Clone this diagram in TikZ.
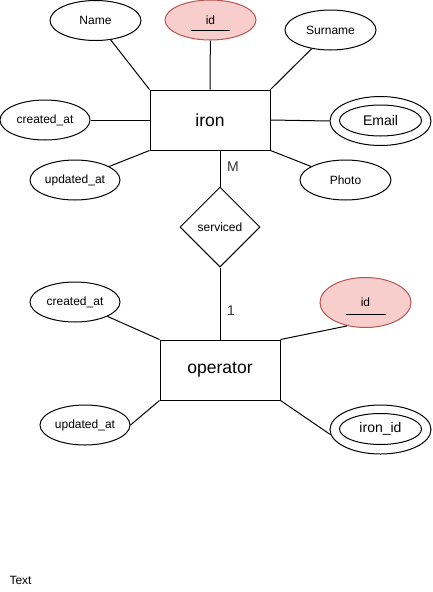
\documentclass[tikz,border=0pt]{standalone}
\usepackage{fontspec}
\setmainfont{Liberation Sans}
\usetikzlibrary{shapes.geometric}
\definecolor{keyfill}{HTML}{F8CECC}
\definecolor{keydraw}{HTML}{B85450}
\begin{document}
\begin{tikzpicture}[x=1pt,y=-1pt,line width=1pt,
  attr/.style={draw,ellipse,inner sep=0pt,minimum width=91pt,minimum height=40pt,font=\fontsize{12}{14}\selectfont},
  keyattr/.style={attr,fill=keyfill,draw=keydraw},
  entity/.style={draw,rectangle,inner sep=0pt,minimum width=120pt,minimum height=60pt,font=\fontsize{17.5}{20}\selectfont},
  rel/.style={draw,diamond,inner sep=0pt,minimum width=80pt,minimum height=80pt,font=\fontsize{12}{14}\selectfont},
  multouter/.style={draw,ellipse,inner sep=0pt,minimum width=101pt,minimum height=49pt},
  multinner/.style={draw,ellipse,inner sep=0pt,minimum width=82pt,minimum height=31pt,font=\fontsize{14}{16}\selectfont},
  card/.style={font=\fontsize{14}{16}\selectfont,text=black!80}
]
\useasboundingbox (0,0) rectangle (432,592);
% iron entity
\node[entity] (iron) at (210,120) {iron};
\node[attr] (name) at (95.5,20.5) {Name};
\node[keyattr] (id1) at (210.5,20) {id};
\draw (id1.center) ++(-19.5,10) coordinate (u1a) -- ++(39,0) coordinate (u1b);
\node[attr] (surname) at (330.5,30) {Surname};
\node[attr,minimum width=90pt] (created1) at (45,120) {created\_at};
\node[multouter] (emailo) at (380.5,121) {};
\node[multinner] (email) at (380.5,120.5) {Email};
\node[attr,minimum width=90pt] (updated1) at (75,180) {updated\_at};
\node[attr] (photo) at (345.5,180) {Photo};
\draw (name) -- (iron.north west);
\draw (id1) -- (iron.north);
\draw (surname) -- (iron.north east);
\draw (created1) -- (iron.west);
\draw (emailo.west) -- (iron.east);
\draw (updated1) -- (iron.south west);
\draw (photo) -- (iron.south east);
% relationship
\node[rel] (serviced) at (220,227) {serviced};
\draw (iron.south -| serviced.north) -- (serviced.north);
\node[card] (m) at (233,167) {M};
% operator entity
\node[entity] (operator) at (220,370) {operator};
\draw (serviced.south) -- (operator.north);
\node[card] (one) at (231,311) {1};
\node[attr,minimum width=90pt] (created2) at (75,302) {created\_at};
\node[keyattr,minimum height=50pt] (id2) at (365.5,302.5) {id};
\draw (id2.center) ++(-20,11.5) coordinate (u2a) -- ++(40,0) coordinate (u2b);
\node[attr,minimum width=90pt] (updated2) at (85,425) {updated\_at};
\node[multouter] (ironido) at (380.5,429.5) {};
\node[multinner] (ironid) at (380.5,429) {iron\_id};
\draw (created2) -- (operator.north west);
\draw (id2.232) -- (operator.north east);
\draw (updated2.east) -- (operator.south west);
\draw (ironido.186) -- (operator.south east);
% free text
\node[anchor=west,inner sep=0pt,font=\fontsize{12}{14}\selectfont] (txt) at (9,580) {Text};
\end{tikzpicture}
\end{document}
